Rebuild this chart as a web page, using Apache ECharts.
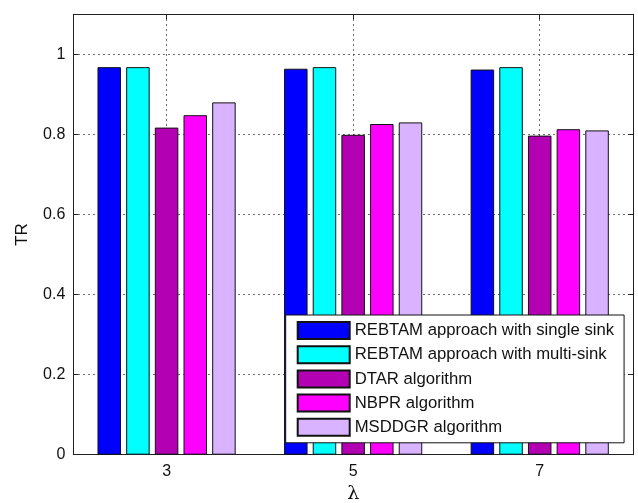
<!DOCTYPE html>
<html>
<head>
<meta charset="utf-8">
<title>TR vs lambda</title>
<script src="https://cdn.jsdelivr.net/npm/echarts@6/dist/echarts.min.js"></script>
<style>
  html, body { margin: 0; padding: 0; background: #fff; }
  #chart { width: 638px; height: 503px; }
</style>
</head>
<body>
<div id="chart"></div>
<script>
// Axis range runs from 2 to 8; only the lambda values carry ticks and labels.
var axisCategories = ['2', '3', '4', '5', '6', '7', '8'];
var lambdaValues = ['3', '5', '7'];

var seriesNames = [
  'REBTAM approach with single sink',
  'REBTAM approach with multi-sink',
  'DTAR algorithm',
  'NBPR algorithm',
  'MSDDGR algorithm'
];
var singleSink = [0.968, 0.964, 0.962];
var multiSink  = [0.968, 0.968, 0.968];
var dtar       = [0.817, 0.799, 0.797];
var nbpr       = [0.848, 0.826, 0.813];
var msddgr     = [0.880, 0.830, 0.810];

var seriesColors = ['#0000ff', '#00ffff', '#b300b3', '#ff00ff', '#d9b3ff'];
var yTicks = [0, 0.2, 0.4, 0.6, 0.8, 1];

var FONT = 'Arial, "Liberation Sans", sans-serif';

// Spread a series (one value per lambda) across the full category axis.
function spread(values) {
  return axisCategories.map(function (c) {
    var i = lambdaValues.indexOf(c);
    return i >= 0 ? values[i] : '-';
  });
}
function isLambda(index, value) {
  return lambdaValues.indexOf(axisCategories[index]) >= 0;
}

var allValues = [singleSink, multiSink, dtar, nbpr, msddgr];
var series = allValues.map(function (vals, k) {
  return {
    name: seriesNames[k],
    type: 'bar',
    data: spread(vals),
    barWidth: 23.5,
    barGap: '22%',
    itemStyle: { color: seriesColors[k], borderColor: '#111', borderWidth: 1 },
    emphasis: { disabled: true },
    animation: false
  };
});

var gridLine = { show: true, lineStyle: { color: '#333', width: 1, type: [1.4, 3.6] } };
var frameLine = { show: true, onZero: false, lineStyle: { color: '#222', width: 1 } };

var chart = echarts.init(document.getElementById('chart'), null, { renderer: 'canvas' });
chart.setOption({
  backgroundColor: '#fff',
  animation: false,
  grid: {
    left: 73.3, right: 5, top: 14.3, bottom: 48.3,
    containLabel: false,
    outerBoundsMode: 'none'
  },
  legend: {
    orient: 'vertical',
    left: 285.7,
    top: 315,
    padding: [6, 10, 6, 11],
    itemWidth: 52,
    itemHeight: 17,
    itemGap: 5.2,
    backgroundColor: '#fff',
    borderColor: '#111',
    borderWidth: 1,
    borderRadius: 0,
    selectedMode: false,
    icon: 'rect',
    textStyle: { fontFamily: FONT, fontSize: 16.7, color: '#111' },
    data: seriesNames
  },
  xAxis: [{
    type: 'category',
    data: axisCategories,
    boundaryGap: false,
    position: 'bottom',
    name: 'λ',
    nameLocation: 'middle',
    nameGap: 24,
    nameTextStyle: { fontFamily: '"DejaVu Serif", serif', fontSize: 19, color: '#111' },
    axisLine: frameLine,
    axisTick: { show: true, inside: true, length: 5, interval: isLambda, lineStyle: { color: '#222' } },
    axisLabel: { interval: isLambda, fontFamily: FONT, fontSize: 16, color: '#111', margin: 9 },
    splitLine: { show: true, interval: isLambda, lineStyle: gridLine.lineStyle }
  }, {
    type: 'category',
    data: axisCategories,
    boundaryGap: false,
    position: 'top',
    axisLine: frameLine,
    axisTick: { show: true, inside: true, length: 5, interval: isLambda, lineStyle: { color: '#222' } },
    axisLabel: { show: false },
    splitLine: { show: false }
  }],
  yAxis: [{
    type: 'value',
    min: 0,
    max: 1.1,
    interval: 0.2,
    position: 'left',
    name: 'TR',
    nameLocation: 'middle',
    nameGap: 42,
    nameTextStyle: { fontFamily: FONT, fontSize: 17, color: '#111' },
    axisLine: frameLine,
    axisTick: { show: true, inside: true, length: 5, lineStyle: { color: '#222' } },
    axisLabel: {
      fontFamily: FONT, fontSize: 16, color: '#111', margin: 8,
      formatter: function (v) {
        var hit = yTicks.filter(function (t) { return Math.abs(t - v) < 1e-9; });
        return hit.length ? String(hit[0]) : '';
      }
    },
    splitLine: gridLine
  }, {
    type: 'value',
    min: 0,
    max: 1.1,
    interval: 0.2,
    position: 'right',
    axisLine: frameLine,
    axisTick: { show: true, inside: true, length: 5, lineStyle: { color: '#222' } },
    axisLabel: { show: false },
    splitLine: { show: false }
  }],
  series: series
});
</script>
</body>
</html>
